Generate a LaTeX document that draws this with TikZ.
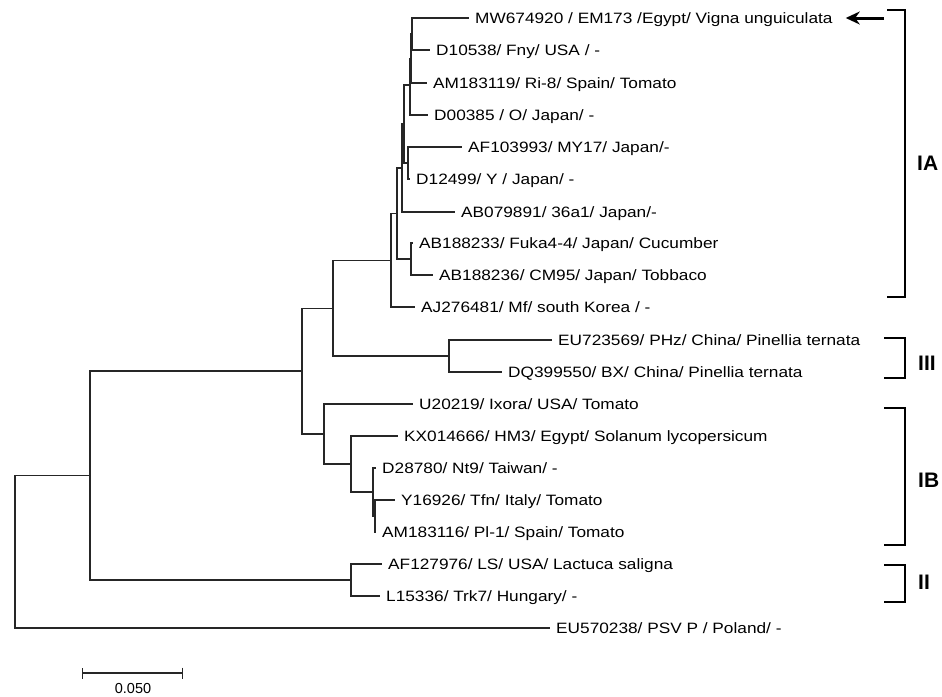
\documentclass[tikz,border=0pt]{standalone}
\usepackage{fontspec}
\setmainfont{Liberation Sans}[FakeStretch=1.15]
\newfontfamily\plainfont{Liberation Sans}
\usetikzlibrary{arrows.meta, calc}

\begin{document}
\begin{tikzpicture}[
    x=1pt, y=-1pt,
    every node/.style={font=\fontsize{15}{17}\selectfont},
    leaf/.style={anchor=west, inner xsep=6pt, inner ysep=0pt, text height=10.7pt, text depth=0pt},
    branch/.style={line width=1.2pt, black!85},
    clade/.style={line width=2.4pt, black},
    cladename/.style={anchor=west, inner sep=0pt, text height=15pt, text depth=0pt, font=\plainfont\fontsize{21}{24}\selectfont\bfseries},
    pointer/.style={-{Stealth[length=14pt, width=13pt]}, line width=3pt},
    scalebar/.style={{Bar[width=11pt]}-{Bar[width=11pt]}, line width=1.2pt, black!85}
]
\useasboundingbox (0,0) rectangle (942,696);

% ============ LEAVES ============
\node[leaf] (mw674920) at (469,18) {MW674920 / EM173 /Egypt/ Vigna unguiculata};
\node[leaf] (d10538)   at (430,50) {D10538/ Fny/ USA / -};
\node[leaf] (am183119) at (427,83) {AM183119/ Ri-8/ Spain/ Tomato};
\node[leaf] (d00385)   at (428,115) {D00385 / O/ Japan/ -};
\node[leaf] (af103993) at (462,147) {AF103993/ MY17/ Japan/-};
\node[leaf] (d12499)   at (410,179) {D12499/ Y / Japan/ -};
\node[leaf] (ab079891) at (455,212) {AB079891/ 36a1/ Japan/-};
\node[leaf] (ab188233) at (413,243) {AB188233/ Fuka4-4/ Japan/ Cucumber};
\node[leaf] (ab188236) at (433,275) {AB188236/ CM95/ Japan/ Tobbaco};
\node[leaf] (aj276481) at (415,307) {AJ276481/ Mf/ south Korea / -};
\node[leaf] (eu723569) at (552,340) {EU723569/ PHz/ China/ Pinellia ternata};
\node[leaf] (dq399550) at (502,372) {DQ399550/ BX/ China/ Pinellia ternata};
\node[leaf] (u20219)   at (413,404) {U20219/ Ixora/ USA/ Tomato};
\node[leaf] (kx014666) at (398,436) {KX014666/ HM3/ Egypt/ Solanum lycopersicum};
\node[leaf] (d28780)   at (376,468) {D28780/ Nt9/ Taiwan/ -};
\node[leaf] (y16926)   at (395,500) {Y16926/ Tfn/ Italy/ Tomato};
\node[leaf] (am183116) at (376,532) {AM183116/ Pl-1/ Spain/ Tomato};
\node[leaf] (af127976) at (382,564) {AF127976/ LS/ USA/ Lactuca saligna};
\node[leaf] (l15336)   at (380,596) {L15336/ Trk7/ Hungary/ -};
\node[leaf] (eu570238) at (550,628) {EU570238/ PSV P / Poland/ -};

% ============ INTERNAL NODES ============
\coordinate (na)   at (412,34);
\coordinate (nb)   at (411,58.5);
\coordinate (nc)   at (410,85);
\coordinate (nd)   at (408,163);
\coordinate (ne)   at (404,124);
\coordinate (nf)   at (402,168);
\coordinate (ng)   at (411,259);
\coordinate (nh)   at (397,213.5);
\coordinate (nIA)  at (391,260.3);
\coordinate (nIII) at (449,356);
\coordinate (ni)   at (333,308.2);
\coordinate (nk)   at (375,516);
\coordinate (nl)   at (373,492);
\coordinate (nm)   at (351,464);
\coordinate (nIB)  at (324,434);
\coordinate (nn)   at (302,371);
\coordinate (nII)  at (351,580);
\coordinate (no)   at (90,475.5);
\coordinate (root) at (15,551.8);

% ============ BRANCHES ============
\draw[branch] (na) |- (mw674920.west) (na) |- (d10538.west);
\draw[branch] (nb) |- (na) (nb) |- (am183119.west);
\draw[branch] (nc) |- (nb) (nc) |- (d00385.west);
\draw[branch] (nd) |- (af103993.west) (nd) |- (d12499.west);
\draw[branch] (ne) |- (nc) (ne) |- (nd);
\draw[branch] (nf) |- (ne) (nf) |- (ab079891.west);
\draw[branch] (ng) |- (ab188233.west) (ng) |- (ab188236.west);
\draw[branch] (nh) |- (nf) (nh) |- (ng);
\draw[branch] (nIA) |- (nh) (nIA) |- (aj276481.west);
\draw[branch] (nIII) |- (eu723569.west) (nIII) |- (dq399550.west);
\draw[branch] (ni) |- (nIA) (ni) |- (nIII);
\draw[branch] (nk) |- (y16926.west) (nk) |- (am183116.west);
\draw[branch] (nl) |- (d28780.west) (nl) |- (nk);
\draw[branch] (nm) |- (kx014666.west) (nm) |- (nl);
\draw[branch] (nIB) |- (u20219.west) (nIB) |- (nm);
\draw[branch] (nn) |- (ni) (nn) |- (nIB);
\draw[branch] (nII) |- (af127976.west) (nII) |- (l15336.west);
\draw[branch] (no) |- (nn) (no) |- (nII);
\draw[branch] (root) |- (no) (root) |- (eu570238.west);

% ============ CLADES ============
\draw[clade] (887,10) -| (905,297) -- (887,297);
\node[cladename] (labIA) at (917,163) {IA};
\draw[clade] (884,338) -| (905,378) -- (884,378);
\node[cladename] (labIII) at (918,363) {III};
\draw[clade] (884,408) -| (905,545) -- (884,545);
\node[cladename] (labIB) at (918,480) {IB};
\draw[clade] (884,565) -| (905,602) -- (884,602);
\node[cladename] (labII) at (918,582) {II};

% New isolate
\coordinate (arrowtail) at (884,18);
\draw[pointer] (arrowtail) -- ([xshift=7pt]mw674920.east);

% ============ SCALE ============
\coordinate (barleft) at (82,673);
\coordinate (barright) at (183,673);
\draw[scalebar] (barleft) -- (barright);
\node[inner sep=0pt, text height=10.5pt, text depth=0pt, font=\plainfont\fontsize{14.5}{17}\selectfont] (scalenum) at (133,688) {0.050};

\end{tikzpicture}
\end{document}
